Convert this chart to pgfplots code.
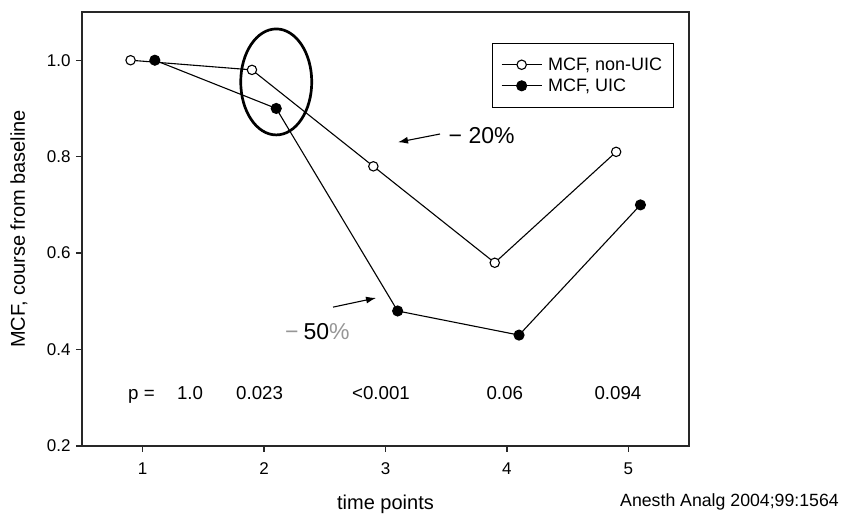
\documentclass[border=0pt]{standalone}
\usepackage{fontspec}
\setmainfont{Liberation Sans}
\usepackage{pgfplots}
\pgfplotsset{compat=1.18}
\usetikzlibrary{arrows.meta}
\definecolor{pctgray}{RGB}{150,150,150}
\definecolor{axgray}{RGB}{40,40,40}

\begin{document}
\begin{tikzpicture}
\useasboundingbox (-82pt,-70pt) rectangle (761pt,446pt);
\begin{axis}[
  at={(0pt,0pt)}, anchor=south west,
  scale only axis, width=607pt, height=434pt,
  xmin=0.5, xmax=5.5, ymin=0.2, ymax=1.1,
  xtick={1,2,3,4,5}, ytick={0.2,0.4,0.6,0.8,1.0},
  tick pos=left, tick align=outside, major tick length=6pt,
  axis line style={line width=1.3pt, axgray},
  every tick/.style={axgray, line width=1.3pt},
  /pgf/number format/assume math mode=true,
  yticklabel style={xshift=-2pt, /pgf/number format/fixed, /pgf/number format/fixed zerofill, /pgf/number format/precision=1},
  tick label style={font=\fontsize{17}{20}\selectfont},
  xticklabel style={yshift=-7pt},
  clip=false,
  xlabel={time points}, ylabel={MCF, course from baseline},
  label style={font=\fontsize{20}{24}\selectfont},
  xlabel style={at={(axis description cs:0.5,0)}, anchor=base, yshift=-64pt},
  ylabel style={at={(axis description cs:-0.0939,0.5)}, anchor=base},
  legend style={at={(0.675,0.929)}, anchor=north west, draw=black, line width=0.8pt,
    fill=white, inner xsep=9pt, inner ysep=12.5pt, font=\fontsize{18}{20}\selectfont,
    row sep=3pt, cells={anchor=west},
    /tikz/every odd column/.append style={column sep=4pt}},
  legend image code/.code={\draw[mark repeat=2,mark phase=2] plot coordinates {(0pt,0pt) (20pt,0pt) (40pt,0pt)};},
]
\addplot[black, line width=1.1pt, mark=*, mark size=4.7pt, mark options={fill=white, line width=1.1pt}]
  coordinates {(0.9,1.0) (1.9,0.98) (2.9,0.78) (3.9,0.58) (4.9,0.81)};
\addlegendentry{MCF, non-UIC}
\addplot[black, line width=1.1pt, mark=*, mark size=5pt, mark options={fill=black}]
  coordinates {(1.1,1.0) (2.1,0.90) (3.1,0.48) (4.1,0.43) (5.1,0.70)};
\addlegendentry{MCF, UIC}

\draw[line width=2.7pt] (axis cs:2.1,0.955) ellipse [x radius=35.5pt, y radius=53pt];
\draw[line width=1.1pt, -{Latex[length=10pt,width=7pt]}] (axis cs:3.449,0.847) -- (axis cs:3.103,0.830);
\draw[line width=1.1pt, -{Latex[length=10pt,width=7pt]}] (axis cs:2.568,0.488) -- (axis cs:2.922,0.507);
\node[anchor=base west, inner sep=0pt, font=\fontsize{23}{27}\selectfont] at (axis cs:3.519,0.8277) {−\ 20\%};
\node[anchor=base west, inner sep=0pt, font=\fontsize{23}{27}\selectfont] at (axis cs:2.172,0.4212) {\textcolor{pctgray}{−}\kern5pt 50\textcolor{pctgray}{\%}};

\begin{scope}[every node/.style={anchor=base, inner sep=0pt, font=\fontsize{18.7}{22}\selectfont}]
\node at (axis cs:0.99,0.297) {p =};
\node at (axis cs:1.39,0.297) {1.0};
\node at (axis cs:1.963,0.297) {0.023};
\node at (axis cs:2.963,0.297) {<0.001};
\node at (axis cs:3.982,0.297) {0.06};
\node at (axis cs:4.915,0.297) {0.094};
\end{scope}
\node[anchor=base west, inner sep=0pt, font=\fontsize{17.7}{21}\selectfont] at (axis cs:4.932,0.0741) {Anesth Analg 2004;99:1564};
\end{axis}
\end{tikzpicture}
\end{document}
